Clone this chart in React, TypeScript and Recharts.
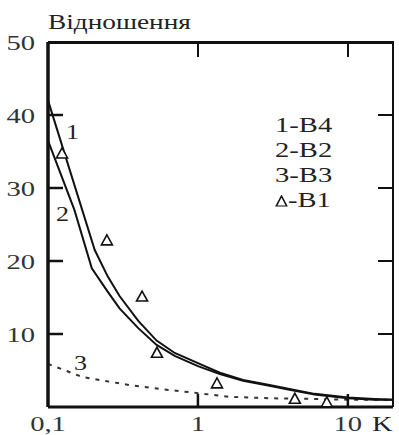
import React from "react";
import { ComposedChart, Line, XAxis, YAxis } from "recharts";

// K values (log axis) and ratio values
const curve1K = [0.1, 0.205, 0.25, 0.3, 0.4, 0.53, 0.7, 1, 1.4, 2, 3, 4, 6, 10, 15, 20];
const curve1Y = [42, 21.5, 17.9, 15.2, 11.8, 9.1, 7.4, 6.0, 4.7, 3.7, 3.0, 2.5, 1.8, 1.3, 1.1, 1.0];

const curve2K = [0.1, 0.15, 0.196, 0.25, 0.3, 0.4, 0.53, 0.7, 1, 1.4, 2, 3, 4, 6, 10, 15, 20];
const curve2Y = [36.5, 27, 19, 15.8, 13.5, 10.8, 8.5, 7.0, 5.6, 4.5, 3.6, 2.9, 2.4, 1.7, 1.2, 1.0, 1.0];

const curve3K = [0.1, 0.17, 0.35, 0.6, 1, 1.6, 3, 6, 10, 20];
const curve3Y = [5.9, 4.1, 3.0, 2.4, 1.9, 1.4, 1.2, 1.1, 1.0, 1.0];

const b1K = [0.124, 0.247, 0.424, 0.533, 1.34, 4.43, 7.24];
const b1Y = [34.8, 22.9, 15.2, 7.5, 3.3, 1.2, 0.7];

const X_MIN = 0.1;
const X_MAX = 20;
const Y_MAX = 50;
const xTicks = [0.1, 1, 10];
const xTickLabels = ["0,1", "1", "10"];
const topTicks = [1, 10];
const yTicks = [10, 20, 30, 40, 50];
const rightTicks = [10, 20, 30, 40];
const legendLabels = ["1-B4", "2-B2", "3-B3", "-B1"];

const toData = (xs: number[], ys: number[]) => xs.map((x, i) => ({ x, y: ys[i] }));

const CHART_W = 399;
const CHART_H = 435;
const MARGIN = { top: 42, right: 6, bottom: 0, left: 0 };
const Y_AXIS_W = 48;
const X_AXIS_H = 28;
const PLOT_W = CHART_W - MARGIN.right - MARGIN.left - Y_AXIS_W;
const PLOT_H = CHART_H - MARGIN.top - MARGIN.bottom - X_AXIS_H;

// pixel helpers for the frame overlay (top / right edges)
const xPix = (k: number) =>
  Y_AXIS_W + (PLOT_W * (Math.log10(k) - Math.log10(X_MIN))) / (Math.log10(X_MAX) - Math.log10(X_MIN));
const yPix = (v: number) => MARGIN.top + PLOT_H * (1 - v / Y_MAX);

const FONT = '"Liberation Serif", "Times New Roman", serif';
const INK = "#111";

const LeftTick = (props: any) => {
  const { x, y, payload } = props;
  return (
    <g>
      {payload.value !== Y_MAX && (
        <line x1={x} x2={x + 15} y1={y} y2={y} stroke={INK} strokeWidth={2.5} />
      )}
      <g transform={`translate(${x - 13},${y + 8}) scale(1.3,1)`}>
        <text textAnchor="end" fontFamily={FONT} fontSize={22} fill="#333">
          {payload.value}
        </text>
      </g>
    </g>
  );
};

const BottomTick = (props: any) => {
  const { x, y, payload } = props;
  const idx = xTicks.indexOf(payload.value);
  return (
    <g>
      {payload.value !== X_MIN && (
        <line x1={x} x2={x} y1={y} y2={y - 13} stroke={INK} strokeWidth={2.5} />
      )}
      <g transform={`translate(${x},${y + 24}) scale(1.3,1)`}>
        <text textAnchor="middle" fontFamily={FONT} fontSize={22} fill="#333">
          {xTickLabels[idx]}
        </text>
      </g>
    </g>
  );
};

const Triangle = (props: any) => {
  const { cx, cy, index } = props;
  if (cx == null || cy == null) return <g key={index} />;
  return (
    <polygon
      key={index}
      points={`${cx},${cy - 5} ${cx - 5.5},${cy + 5} ${cx + 5.5},${cy + 5}`}
      fill="#fff"
      stroke={INK}
      strokeWidth={1.6}
    />
  );
};

const textStyle = (left: number, top: number, size: number): React.CSSProperties => ({
  position: "absolute",
  left,
  top,
  fontFamily: FONT,
  fontSize: size,
  color: "#222",
  lineHeight: 1,
  transform: "scaleX(1.3)",
  transformOrigin: "left top",
  whiteSpace: "nowrap",
});

const bar = (left: number, top: number, width: number, height: number): React.CSSProperties => ({
  position: "absolute",
  left,
  top,
  width,
  height,
  background: INK,
  pointerEvents: "none",
});

export default function App() {
  return (
    <div style={{ position: "absolute", left: 0, top: 0, width: CHART_W, height: CHART_H }}>
      <ComposedChart width={CHART_W} height={CHART_H} margin={MARGIN}>
        <XAxis
          dataKey="x"
          type="number"
          scale="log"
          domain={[X_MIN, X_MAX]}
          ticks={xTicks}
          height={X_AXIS_H}
          tickSize={0}
          tickMargin={0}
          tickLine={false}
          axisLine={{ stroke: INK, strokeWidth: 3 }}
          tick={<BottomTick />}
        />
        <YAxis
          type="number"
          domain={[0, Y_MAX]}
          ticks={yTicks}
          width={Y_AXIS_W}
          tickSize={0}
          tickMargin={0}
          tickLine={false}
          axisLine={{ stroke: INK, strokeWidth: 3.5 }}
          tick={<LeftTick />}
        />

        <Line
          data={toData(curve3K, curve3Y)}
          dataKey="y"
          type="linear"
          stroke="#333"
          strokeWidth={2}
          strokeDasharray="4 6"
          dot={false}
          isAnimationActive={false}
        />
        <Line
          data={toData(curve2K, curve2Y)}
          dataKey="y"
          type="linear"
          stroke={INK}
          strokeWidth={2}
          dot={false}
          isAnimationActive={false}
        />
        <Line
          data={toData(curve1K, curve1Y)}
          dataKey="y"
          type="linear"
          stroke={INK}
          strokeWidth={2}
          dot={false}
          isAnimationActive={false}
        />
        {/* B1 points: triangles only, no connecting line */}
        <Line
          data={toData(b1K, b1Y)}
          dataKey="y"
          stroke="none"
          dot={<Triangle />}
          isAnimationActive={false}
        />
      </ComposedChart>

      {/* top and right frame with inward ticks */}
      <div style={bar(Y_AXIS_W, MARGIN.top - 1, PLOT_W + 1, 2.5)} />
      <div style={bar(Y_AXIS_W + PLOT_W - 1.5, MARGIN.top - 1, 2.5, PLOT_H + 1)} />
      {topTicks.map((t) => (
        <div key={`t${t}`} style={bar(xPix(t) - 1.25, MARGIN.top, 2.5, 15)} />
      ))}
      {rightTicks.map((v) => (
        <div key={`r${v}`} style={bar(Y_AXIS_W + PLOT_W - 15, yPix(v) - 1.25, 15, 2.5)} />
      ))}

      {/* title, axis name, curve numbers, legend */}
      <div style={textStyle(48, 12, 21)}>Відношення</div>
      <div style={textStyle(372, 413, 22)}>K</div>
      <div style={textStyle(66, 122, 20)}>1</div>
      <div style={textStyle(56, 204, 20)}>2</div>
      <div style={textStyle(74, 353, 20)}>3</div>
      <div style={{ ...textStyle(275, 112, 22), lineHeight: "25px" }}>
        {legendLabels.map((l, i) => (
          <div key={l}>
            {i === 3 && (
              <svg width={10} height={12}>
                <polygon points="5,1 1,11 9,11" fill="#fff" stroke={INK} strokeWidth={1.2} />
              </svg>
            )}
            {l}
          </div>
        ))}
      </div>
    </div>
  );
}
